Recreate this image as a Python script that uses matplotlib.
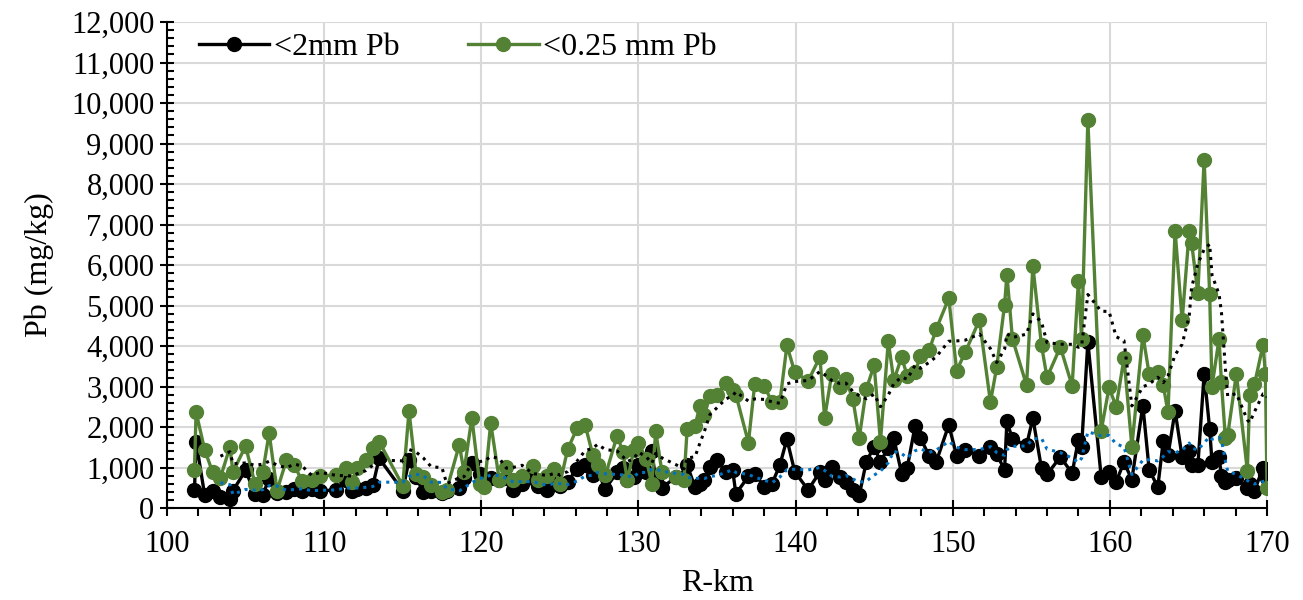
import numpy as np
import pandas as pd
import matplotlib
matplotlib.use("Agg")
import matplotlib.pyplot as plt
from matplotlib.ticker import MultipleLocator, FuncFormatter

plt.rcParams['font.family'] = ['Liberation Serif', 'DejaVu Serif']

# sampling positions (R-km) shared by both fractions
rkm = [101.75, 101.85, 102.4, 102.9, 103.4, 104.0, 104.2, 105.0, 105.6, 106.1,
       106.5, 107.0, 107.6, 108.1, 108.6, 109.2, 109.75, 110.75, 111.4, 111.8,
       112.1, 112.65, 113.1, 113.5, 115.0, 115.4, 115.85, 116.3, 116.8, 117.5,
       117.8, 118.6, 118.9, 119.4, 119.9, 120.2, 120.6, 121.15, 121.6, 122.0,
       122.6, 123.3, 123.6, 124.2, 124.65, 125.0, 125.5, 126.1, 126.6, 127.1,
       127.4, 127.9, 128.65, 129.0, 129.3, 129.7, 130.0, 130.5, 130.85, 131.1,
       131.5, 132.4, 132.9, 133.1, 133.6, 133.9, 134.2, 134.55, 135.0, 135.55,
       136.0, 136.2, 137.0, 137.4, 138.0, 138.5, 139.0, 139.45, 139.95, 140.8,
       141.55, 141.85, 142.3, 142.8, 143.2, 143.65, 144.05, 144.5, 145.0, 145.4,
       145.9, 146.25, 146.75, 147.1, 147.6, 147.95, 148.5, 148.95, 149.75, 150.25,
       150.8, 151.7, 152.4, 152.8, 153.3, 153.45, 153.8, 154.7, 155.1, 155.65,
       156.0, 156.85, 157.6, 158.0, 158.2, 158.6, 159.45, 159.95, 160.4, 160.9,
       161.4, 162.1, 162.5, 163.05, 163.4, 163.7, 164.15, 164.6, 165.05, 165.2,
       165.6, 166.0, 166.35, 166.5, 166.95, 167.1, 167.35, 167.5, 168.05, 168.75,
       168.9, 169.2, 169.75, 169.9, 170.0]

# <2mm fraction Pb (mg/kg)
pb_2mm = [450, 1640, 310, 430, 280, 220, 430, 930, 350, 330,
          720, 380, 400, 460, 420, 480, 420, 450, 700, 420,
          480, 500, 560, 1225, 430, 1180, 770, 390, 430, 380,
          420, 500, 750, 1100, 850, 600, 750, 700, 750, 450,
          600, 750, 550, 450, 700, 550, 650, 975, 1060, 810,
          900, 475, 890, 1000, 680, 760, 1050, 900, 1400, 700,
          500, 770, 770, 1060, 515, 600, 700, 1015, 1180, 900,
          930, 350, 780, 850, 530, 600, 1060, 1700, 890, 450,
          890, 700, 1015, 770, 640, 450, 310, 1140, 1515, 1140,
          1490, 1725, 850, 980, 2015, 1725, 1290, 1140, 2050, 1290,
          1440, 1290, 1500, 1330, 940, 2140, 1700, 1550, 2220, 980,
          830, 1260, 860, 1690, 1500, 4100, 760, 900, 650, 1130,
          700, 2530, 950, 515, 1660, 1300, 2400, 1250, 1410, 1050,
          1050, 3310, 1960, 1130, 1250, 800, 650, 700, 750, 500,
          600, 420, 1000, 850, 750]

# <0.25 mm fraction Pb (mg/kg)
pb_025 = [950, 2370, 1430, 890, 750, 1500, 890, 1530, 600, 900,
          1850, 430, 1180, 1060, 660, 700, 800, 810, 1000, 640,
          980, 1180, 1470, 1640, 550, 2390, 850, 770, 560, 390,
          450, 1560, 900, 2225, 600, 520, 2100, 680, 1015, 680,
          800, 1030, 680, 800, 975, 600, 1450, 1975, 2060, 1310,
          1060, 810, 1790, 1390, 680, 1430, 1615, 1200, 600, 1890,
          880, 765, 700, 1950, 2015, 2515, 2300, 2765, 2790, 3080,
          2915, 2800, 1615, 3060, 3015, 2620, 2615, 4015, 3350, 3140,
          3725, 2225, 3310, 2980, 3180, 2680, 1725, 2930, 3530, 1640,
          4115, 3150, 3725, 3270, 3350, 3750, 3890, 4415, 5180, 3390,
          3850, 4640, 2615, 3475, 5015, 5765, 4180, 3030, 5975, 4015,
          3225, 3975, 3015, 5615, 4180, 9575, 1910, 2980, 2500, 3700,
          1515, 4270, 3310, 3350, 3030, 2360, 6850, 4630, 6830, 6550,
          5310, 8600, 5290, 3000, 4180, 3100, 1740, 1800, 3310, 920,
          2780, 3050, 4030, 3310, 500]

green = '#548235'
fig = plt.figure(figsize=(13.03, 6.0), dpi=100)
ax = fig.add_axes([167 / 1303, 1 - 508 / 600, 1100 / 1303, 486 / 600])

# 5-point moving-average trendlines (as in the spreadsheet chart)
ma_2mm = pd.Series(pb_2mm).rolling(5).mean()
ma_025 = pd.Series(pb_025).rolling(5).mean()

ax.plot(rkm, pb_2mm, '-o', color='black', lw=2.4, ms=10, label='<2mm Pb', zorder=3)
ax.plot(rkm, pb_025, '-o', color=green, lw=2.4, ms=10, label='<0.25 mm Pb', zorder=4)
ax.plot(rkm, ma_025, ':', color='black', lw=2.2, zorder=5)
ax.plot(rkm, ma_2mm, ':', color='#0070C0', lw=2.2, zorder=5)

ax.set_xlim(100, 170)
ax.set_ylim(0, 12000)
ax.xaxis.set_major_locator(MultipleLocator(10))
ax.xaxis.set_minor_locator(MultipleLocator(2))
ax.yaxis.set_major_locator(MultipleLocator(1000))
ax.yaxis.set_minor_locator(MultipleLocator(200))
ax.yaxis.set_major_formatter(FuncFormatter(lambda v, p: f'{int(v):,}'))

ax.grid(True, which='major', color='#d9d9d9', lw=1.5, zorder=0)
ax.set_axisbelow(True)
for s in ['top', 'right']:
    ax.spines[s].set_visible(False)
for s in ['left', 'bottom']:
    ax.spines[s].set_linewidth(1.5)

ax.tick_params(axis='y', which='major', direction='inout', length=10, width=1.5, labelsize=22, pad=4)
ax.tick_params(axis='y', which='minor', direction='in', length=5, width=1.5)
ax.tick_params(axis='x', which='major', direction='inout', length=12, width=1.5, labelsize=22, pad=10)
ax.tick_params(axis='x', which='minor', direction='out', length=6, width=1.5)

ax.set_xlabel('R-km', fontsize=23, labelpad=7)
ax.set_ylabel('Pb (mg/kg)', fontsize=23, labelpad=12)

ax.legend(loc='upper left', ncol=2, frameon=False, fontsize=23, handlelength=2.2,
          columnspacing=2.15, handletextpad=0.15, borderpad=0, borderaxespad=0,
          bbox_to_anchor=(0.029, 0.978))

fig.savefig('out.png', dpi=100)
